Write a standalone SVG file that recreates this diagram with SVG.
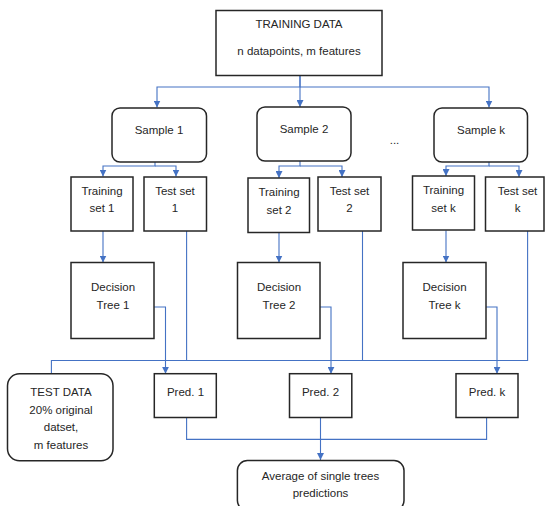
<svg xmlns="http://www.w3.org/2000/svg" width="545" height="506" viewBox="0 0 545 506">
<defs>
<marker id="arr" markerUnits="userSpaceOnUse" markerWidth="8" markerHeight="7" refX="7" refY="3.5" orient="auto"><path d="M0,0 L7,3.5 L0,7 z" fill="#4472C4"/></marker>
<style>
.b{fill:#fff;stroke:#262626;stroke-width:1.5}
.c{fill:none;stroke:#4472C4;stroke-width:1.1}
.a{marker-end:url(#arr)}
text{font-family:"Liberation Sans",Arial,sans-serif;font-size:11.5px;fill:#262626;text-anchor:middle}
</style>
</defs>
<rect width="545" height="506" fill="#fff"/>
<g id="connectors">
<path class="c a" d="M300,75.5 V87 H157 V107.5"/>
<path class="c a" d="M300,75.5 V107"/>
<path class="c a" d="M300,87 H489 V107.5"/>
<path class="c a" d="M155,162 V166 H103 V176.5"/>
<path class="c a" d="M155,166 H176 V176.5"/>
<path class="c a" d="M300,161 V166 H279 V178"/>
<path class="c a" d="M300,166 H342 V177"/>
<path class="c a" d="M489,162 V166 H446 V176"/>
<path class="c a" d="M489,166 H519 V177"/>
<path class="c a" d="M103,231 V262.5"/>
<path class="c a" d="M279,232.5 V262.5"/>
<path class="c a" d="M446,230.5 V262.5"/>
<path class="c a" d="M154,307 H165.5 V373.7"/>
<path class="c a" d="M320,307 H331 V373.7"/>
<path class="c a" d="M486,307 H497 V373.7"/>
<path class="c" d="M186.6,231 V360.5"/>
<path class="c" d="M362.5,231 V360.5"/>
<path class="c" d="M527.6,231 V360.5 H51.4 V373.7"/>
<path class="c" d="M186.6,417.5 V439.4 H486.6 V417.5"/>
<path class="c a" d="M320.5,417.5 V460"/>
</g>
<g id="training-data"><rect class="b" x="216" y="10.5" width="166" height="65"/><text x="299" y="28">TRAINING DATA</text><text x="299" y="55">n datapoints, m features</text></g>
<g id="sample-1"><rect class="b" x="112" y="108" width="94.5" height="54" rx="8"/><text x="159" y="134">Sample 1</text></g>
<g id="sample-2"><rect class="b" x="257" y="107" width="94" height="54" rx="8"/><text x="304" y="133">Sample 2</text></g>
<g id="ellipsis"><text x="394.5" y="144">...</text></g>
<g id="sample-k"><rect class="b" x="434" y="108" width="93.5" height="54" rx="8"/><text x="481" y="134">Sample k</text></g>
<g id="training-set-1"><rect class="b" x="71" y="177" width="62" height="54"/><text x="102" y="194.5">Training</text><text x="102" y="212">set 1</text></g>
<g id="test-set-1"><rect class="b" x="144" y="177" width="62.5" height="54"/><text x="175" y="194.5">Test set</text><text x="175" y="212">1</text></g>
<g id="training-set-2"><rect class="b" x="248" y="178" width="61.5" height="54.5"/><text x="279" y="196">Training</text><text x="279" y="213.5">set 2</text></g>
<g id="test-set-2"><rect class="b" x="318" y="177" width="63" height="54"/><text x="349.5" y="194.5">Test set</text><text x="349.5" y="212">2</text></g>
<g id="training-set-k"><rect class="b" x="412.5" y="176" width="62" height="54"/><text x="443.5" y="194">Training</text><text x="443.5" y="211.5">set k</text></g>
<g id="test-set-k"><rect class="b" x="485.5" y="177" width="58.5" height="54"/><text x="517.5" y="194.5">Test set</text><text x="517.5" y="212">k</text></g>
<g id="decision-tree-1"><rect class="b" x="71" y="262.5" width="83" height="76"/><text x="113" y="291">Decision</text><text x="113" y="308.5">Tree 1</text></g>
<g id="decision-tree-2"><rect class="b" x="237.5" y="262.5" width="82.5" height="76"/><text x="279" y="291">Decision</text><text x="279" y="308.5">Tree 2</text></g>
<g id="decision-tree-k"><rect class="b" x="403" y="262.5" width="83" height="76"/><text x="444.5" y="291">Decision</text><text x="444.5" y="308.5">Tree k</text></g>
<g id="test-data"><rect class="b" x="7.5" y="373.7" width="105.5" height="87" rx="12"/><text x="61" y="396">TEST DATA</text><text x="61" y="413.5">20% original</text><text x="61" y="431">datset,</text><text x="61" y="448.5">m features</text></g>
<g id="pred-1"><rect class="b" x="154.3" y="373.7" width="62" height="43.8"/><text x="185.5" y="396">Pred. 1</text></g>
<g id="pred-2"><rect class="b" x="289.5" y="373.7" width="62.3" height="43.8"/><text x="320.5" y="395.5">Pred. 2</text></g>
<g id="pred-k"><rect class="b" x="456" y="373.7" width="62" height="43.8"/><text x="487" y="395.5">Pred. k</text></g>
<g id="average"><rect class="b" x="237.4" y="460.6" width="166.6" height="50" rx="10"/><text x="320.5" y="480">Average of single trees</text><text x="320.5" y="497">predictions</text></g>
</svg>
